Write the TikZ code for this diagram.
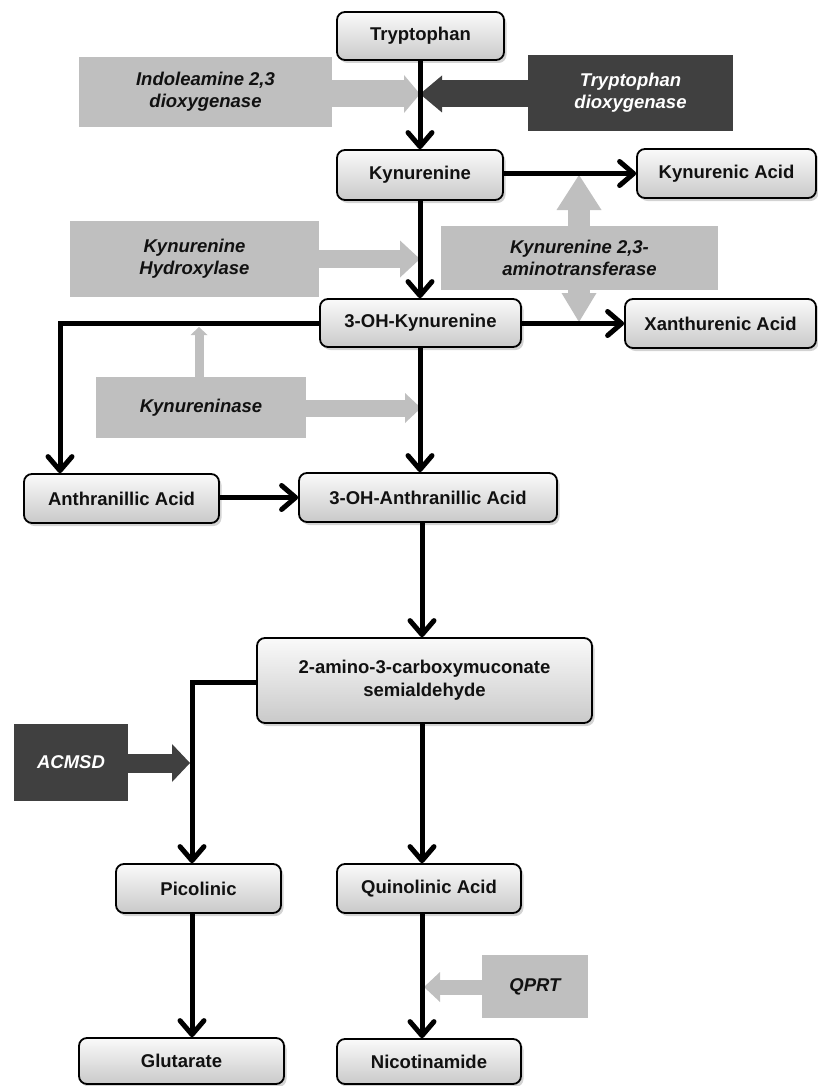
\documentclass[tikz,border=0pt]{standalone}
\usepackage{fontspec}
\setmainfont{Liberation Sans}
\usetikzlibrary{arrows.meta,shadows,calc}
\definecolor{elight}{HTML}{BFBFBF}
\definecolor{edark}{HTML}{404040}
\definecolor{ink}{HTML}{111111}
\begin{document}
\begin{tikzpicture}[x=1pt,y=-1pt,
  metab/.style={draw=black, line width=1.8pt, rounded corners=8pt,
    top color=gray!4, bottom color=gray!42,
    drop shadow={shadow xshift=2.5pt, shadow yshift=-3pt, opacity=0.35},
    font=\bfseries\fontsize{18.5}{23}\selectfont, text=ink, align=center, inner sep=0pt},
  enz/.style={fill=elight, font=\bfseries\itshape\fontsize{18.5}{22}\selectfont,
    text=ink, align=center, inner sep=0pt},
  enzd/.style={enz, fill=edark, text=white},
  flow/.style={line width=5pt, -{Straight Barb[length=14pt,width=24pt,round]}},
  lgarrow/.style={draw=elight, line width=#1},
  dkarrow/.style={draw=edark, line width=#1}]

\useasboundingbox (0,0) rectangle (818,1086);

% main axis x positions
\coordinate (ax) at (420,0);
\coordinate (bx) at (422,0);

% ---------- enzyme boxes ----------
\node[enz, minimum width=253pt, minimum height=70pt] (indo) at (205.5,92) {Indoleamine 2,3\\dioxygenase};
\node[enzd, minimum width=205pt, minimum height=76pt] (tdo) at (630.5,93) {Tryptophan\\dioxygenase};
\node[enz, minimum width=249pt, minimum height=76pt] (khyd) at (194.5,259) {Kynurenine\\Hydroxylase};
\node[enz, minimum width=210pt, minimum height=61pt] (kase) at (201,407.5) {Kynureninase};
\node[enzd, minimum width=114pt, minimum height=77pt] (acmsd) at (71,762.5) {ACMSD};
\node[enz, minimum width=106pt, minimum height=63pt] (qprt) at (535,986.5) {QPRT};

% ---------- enzyme arrows ----------
\coordinate (t1) at (420,94);
\coordinate (t2) at (420,259);
\coordinate (t3) at (199,327);
\coordinate (t4) at (421,408);
\coordinate (t5) at (190,763);
\coordinate (t6) at (424,987);
\coordinate (t7a) at (579,175);
\coordinate (t7b) at (579,322);

\draw[lgarrow=27pt, -{Triangle[length=16pt,width=38pt,line width=0pt]}] (t1 -| indo.east) -- (t1);
\draw[dkarrow=27pt, -{Triangle[length=22pt,width=37pt,line width=0pt]}] (t1 -| tdo.west) -- (t1);
\draw[lgarrow=18pt, -{Triangle[length=20pt,width=37pt,line width=0pt]}] (t2 -| khyd.east) -- (t2);
\draw[lgarrow=9pt, -{Triangle[length=8pt,width=17pt,line width=0pt]}] (t3 |- kase.north) -- (t3);
\draw[lgarrow=17pt, -{Triangle[length=16pt,width=30pt,line width=0pt]}] (t4 -| kase.east) -- (t4);
\draw[dkarrow=19pt, -{Triangle[length=18pt,width=38pt,line width=0pt]}] (t5 -| acmsd.east) -- (t5);
\draw[lgarrow=15pt, -{Triangle[length=16pt,width=30pt,line width=0pt]}] (t6 -| qprt.west) -- (t6);
\draw[lgarrow=22pt, {Triangle[length=35pt,width=45pt,line width=0pt]}-{Triangle[length=29pt,width=35pt,line width=0pt]}] (t7a) -- (t7b);
\node[enz, minimum width=277pt, minimum height=64pt] (kat) at (579.5,258) {Kynurenine 2,3-\\aminotransferase};

% ---------- metabolites ----------
\node[metab, minimum width=167pt, minimum height=48pt] (tryp) at (420.5,36) {Tryptophan};
\node[metab, minimum width=166pt, minimum height=50pt] (kyn) at (420,175) {Kynurenine};
\node[metab, minimum width=179pt, minimum height=49pt] (kyna) at (726.5,173.5) {Kynurenic Acid};
\node[metab, minimum width=201pt, minimum height=48pt] (ohkyn) at (420.5,323) {3-OH-Kynurenine};
\node[metab, minimum width=191pt, minimum height=49pt] (xan) at (720.5,323.5) {Xanthurenic Acid};
\node[metab, minimum width=195pt, minimum height=49pt] (anth) at (121.5,498.5) {Anthranillic Acid};
\node[metab, minimum width=258pt, minimum height=49pt] (ohanth) at (428,497.5) {3-OH-Anthranillic Acid};
\node[metab, minimum width=335pt, minimum height=85pt] (acms) at (424.5,680.5) {2-amino-3-carboxymuconate\\semialdehyde};
\node[metab, minimum width=165pt, minimum height=49pt] (pico) at (198.5,888.5) {Picolinic};
\node[metab, minimum width=184pt, minimum height=49pt] (quin) at (429,888.5) {Quinolinic Acid};
\node[metab, minimum width=205pt, minimum height=46pt] (glut) at (181.5,1061) {Glutarate};
\node[metab, minimum width=184pt, minimum height=45pt] (nico) at (429,1061.5) {Nicotinamide};

% ---------- pathway connectors ----------
\draw[flow] (tryp.south -| ax) -- (kyn.north -| ax);
\draw[flow] (kyn.south -| ax) -- (ohkyn.north -| ax);
\draw[flow] (kyna.west -| kyn.east) -- (kyna.west);
\draw[flow] (xan.west -| ohkyn.east) -- (xan.west);
\draw[flow] (ohkyn.south -| ax) -- (ohanth.north -| ax);
\coordinate (c1) at (60,323);
\draw[flow] (ohkyn.west) -- (c1) -- (c1 |- anth.north);
\draw[flow] (ohanth.west -| anth.east) -- (ohanth.west);
\draw[flow] (ohanth.south -| bx) -- (acms.north -| bx);
\coordinate (c2) at (192,682);
\draw[flow] (c2 -| acms.west) -- (c2) -- (c2 |- pico.north);
\draw[flow] (acms.south -| bx) -- (quin.north -| bx);
\draw[flow] (c2 |- pico.south) -- (c2 |- glut.north);
\draw[flow] (quin.south -| bx) -- (nico.north -| bx);
\end{tikzpicture}
\end{document}
